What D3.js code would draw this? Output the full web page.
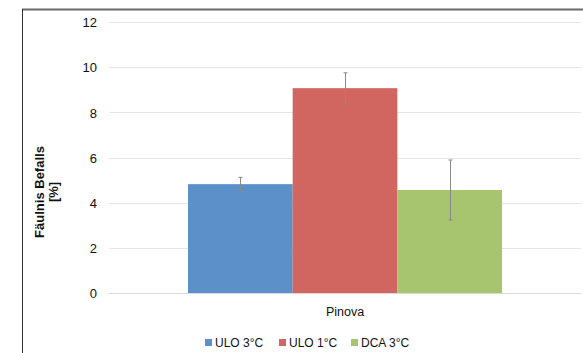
<!DOCTYPE html>
<html><head><meta charset="utf-8">
<script src="https://cdn.jsdelivr.net/npm/d3@7"></script>
<style>body{margin:0;background:#fff;}svg{display:block;font-family:"Liberation Sans",Arial,sans-serif;}</style>
</head><body>
<svg id="c" width="583" height="353"></svg>
<script>
const categories = ["Pinova"];
const series = ["ULO 3°C", "ULO 1°C", "DCA 3°C"];
const values = [4.82, 9.07, 4.56];
const errors = [0.30, 0.68, 1.33];
const colors = ["#5b91c8", "#d1655f", "#a7c46e"];
const yTicks = [0, 2, 4, 6, 8, 10, 12];

const svg = d3.select("#c");
// frame
svg.append("line").attr("x1",22).attr("x2",583).attr("y1",9.5).attr("y2",9.5).attr("stroke","#6a6a6a").attr("stroke-width",2);
svg.append("line").attr("x1",22.5).attr("x2",22.5).attr("y1",9).attr("y2",353).attr("stroke","#333").attr("stroke-width",1);

const y = d3.scaleLinear().domain([0,12]).range([293,22]);
const x0 = d3.scaleBand().domain(categories).range([109,581]).paddingInner(0).paddingOuter(0.2516);
const x1 = d3.scaleBand().domain(series).range([0, x0.bandwidth()]).padding(0);

// gridlines
svg.append("g").selectAll("line").data(yTicks).join("line")
  .attr("x1",109).attr("x2",581).attr("y1",d=>Math.round(y(d))+0.5).attr("y2",d=>Math.round(y(d))+0.5)
  .attr("stroke",d=>d===0?"#d9d9d9":"#e6e6e6").attr("stroke-width",1);

// y axis labels
const yAxis = d3.axisLeft(y).tickValues(yTicks).tickSize(0).tickPadding(0);
const ga = svg.append("g").attr("transform","translate(97,0)").call(yAxis);
ga.select(".domain").remove();
ga.selectAll("text").attr("font-size",13).attr("fill","#111").attr("font-family","Liberation Sans, Arial, sans-serif").attr("dy","0.36em");

// bars
const g = svg.append("g");
categories.forEach((c,ci)=>{
  series.forEach((s,si)=>{
    const xb = x0(c)+x1(s);
    g.append("rect").attr("x",xb).attr("width",x1.bandwidth()).attr("y",y(values[si])).attr("height",y(0)-y(values[si])).attr("fill",colors[si]);
  });
  series.forEach((s,si)=>{
    const cx = Math.round(x0(c)+x1(s)+x1.bandwidth()/2)+0.5;
    const t = y(values[si]+errors[si]), b = y(values[si]-errors[si]);
    g.append("line").attr("x1",cx).attr("x2",cx).attr("y1",t).attr("y2",b).attr("stroke","#8a8a8a").attr("stroke-width",1);
    [t,b].forEach(yy=>g.append("line").attr("x1",cx-2).attr("x2",cx+2).attr("y1",yy).attr("y2",yy).attr("stroke","#8a8a8a").attr("stroke-width",1));
  });
  svg.append("text").attr("x",x0(c)+x0.bandwidth()/2).attr("y",316).attr("text-anchor","middle").attr("font-size",12.5).attr("fill","#111").text(c);
});

// y title
const tt = svg.append("text").attr("transform","translate(45,192) rotate(-90)").attr("text-anchor","middle").attr("font-size",13).attr("font-weight","bold").attr("fill","#111");
tt.append("tspan").attr("x",0).attr("dy","-0.1em").text("Fäulnis Befalls");
tt.append("tspan").attr("x",0).attr("dy","1.1em").text("[%]");

// legend
const legX = [205, 279, 351];
series.forEach((s,i)=>{
  const lg = svg.append("g").attr("transform",`translate(${legX[i]},343)`);
  lg.append("rect").attr("x",0).attr("y",-4).attr("width",7).attr("height",7).attr("fill",colors[i]);
  lg.append("text").attr("x",10).attr("y",0).attr("dy","0.36em").attr("font-size",12).attr("fill","#111").text(s);
});
</script>
</body></html>
